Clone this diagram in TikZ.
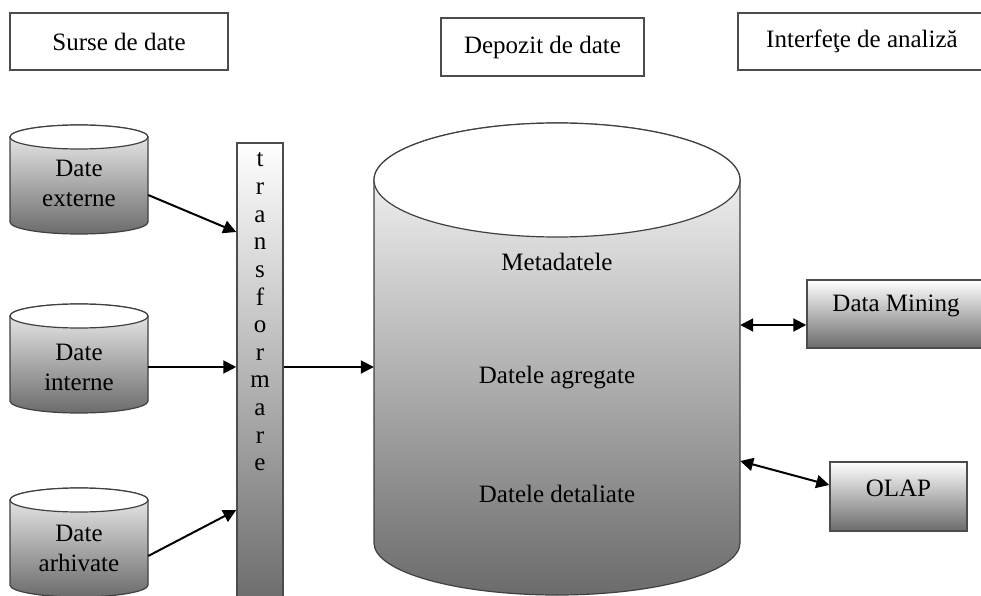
\documentclass[tikz,border=0pt]{standalone}
\usepackage{fontspec}
\setmainfont{Liberation Serif}
\usetikzlibrary{arrows.meta}
\begin{document}
\begin{tikzpicture}[x=1pt,y=1pt,
  font=\fontsize{25}{30}\selectfont,
  titlebox/.style={draw=black!70, line width=1.5pt, inner sep=0pt},
  panel/.style={draw=black!70, line width=1.5pt, top color=white, bottom color=black!58, inner sep=0pt},
  rim/.style={draw=black!75, line width=1.2pt},
  link/.style={line width=2pt, -{Triangle[length=13pt,width=13pt]}},
  twoway/.style={line width=2pt, {Triangle[length=13pt,width=13pt]}-{Triangle[length=13pt,width=13pt]}}]
\useasboundingbox (0,0) rectangle (981,595);
\clip (0,0) rectangle (981,595);

% column headings
\node[titlebox, minimum width=218pt, minimum height=57pt] (src) at (119,553.5) {Surse de date};
\node[titlebox, minimum width=203pt, minimum height=58pt] (dep) at (542.5,548) {Depozit de date};
\node[titlebox, minimum width=248pt, minimum height=57pt] (gui) at (862,553.5) {Interfeţe de analiză};

% source drums
\shade[rim, top color=white!95!black, bottom color=black!58] (10,458) -- (10,373) arc[start angle=180,end angle=360,x radius=69,y radius=12] -- (148,458) arc[start angle=0,end angle=180,x radius=69,y radius=12] -- cycle;
\filldraw[rim, fill=white] (79,458) ellipse[x radius=69, y radius=12];
\shade[rim, top color=white!95!black, bottom color=black!58] (10,279) -- (10,194) arc[start angle=180,end angle=360,x radius=69,y radius=12] -- (148,279) arc[start angle=0,end angle=180,x radius=69,y radius=12] -- cycle;
\filldraw[rim, fill=white] (79,279) ellipse[x radius=69, y radius=12];
\shade[rim, top color=white!95!black, bottom color=black!58] (10,95) -- (10,10) arc[start angle=180,end angle=360,x radius=69,y radius=12] -- (148,95) arc[start angle=0,end angle=180,x radius=69,y radius=12] -- cycle;
\filldraw[rim, fill=white] (79,95) ellipse[x radius=69, y radius=12];

\node[align=center, minimum width=138pt, inner sep=0pt] (ext) at (79,412) {Date\\externe};
\node[align=center, minimum width=138pt, inner sep=0pt] (int) at (79,228) {Date\\interne};
\node[align=center, minimum width=138pt, inner sep=0pt] (arh) at (79,46.5) {Date\\arhivate};

% transformation bar
\node[panel, minimum width=46pt, minimum height=462pt] (trans) at (260,221) {};
\foreach \ch [count=\i] in {t,r,a,n,s,f,o,r,m,a,r,e}
  \node[anchor=base, inner sep=0pt] (tr\i) at (260,455.6-27.6*\i) {\ch};

% warehouse drum
\shade[rim, top color=white, bottom color=black!58] (374,415) -- (374,52) arc[start angle=180,end angle=360,x radius=183,y radius=52] -- (740,415) arc[start angle=0,end angle=180,x radius=183,y radius=57] -- cycle;
\filldraw[rim, fill=white] (557,415) ellipse[x radius=183, y radius=57];
\node[minimum width=366pt, minimum height=363pt, inner sep=0pt] (dw) at (557,233.5) {};
\node (meta) at (557,333) {Metadatele};
\node (agg) at (557,217) {Datele agregate};
\node (det) at (557,101) {Datele detaliate};

% analysis tools
\node[panel, minimum width=178pt, minimum height=68pt] (dm) at (896,281) {};
\node (dmtext) at (896,289) {Data Mining};
\node[panel, minimum width=137pt, minimum height=69pt] (olap) at (898.5,98.5) {};
\node (olaptext) at (898.5,107) {OLAP};

% flows
\draw[link] ([yshift=-12pt]ext.east) -- ([yshift=142pt]trans.west);
\draw[link] (int.east) -- (trans.west |- int.east);
\draw[link] ([yshift=-7.5pt]arh.east) -- ([yshift=-136pt]trans.west);
\draw[link] (trans.east |- int.east) -- (dw.west |- int.east);
\draw[twoway] ([yshift=-11pt]dw.east |- dm.west) -- ([yshift=-11pt]dm.west);
\draw[twoway] ([yshift=-99.5pt]dw.east) -- ([yshift=11.5pt]olap.west);
\end{tikzpicture}
\end{document}
